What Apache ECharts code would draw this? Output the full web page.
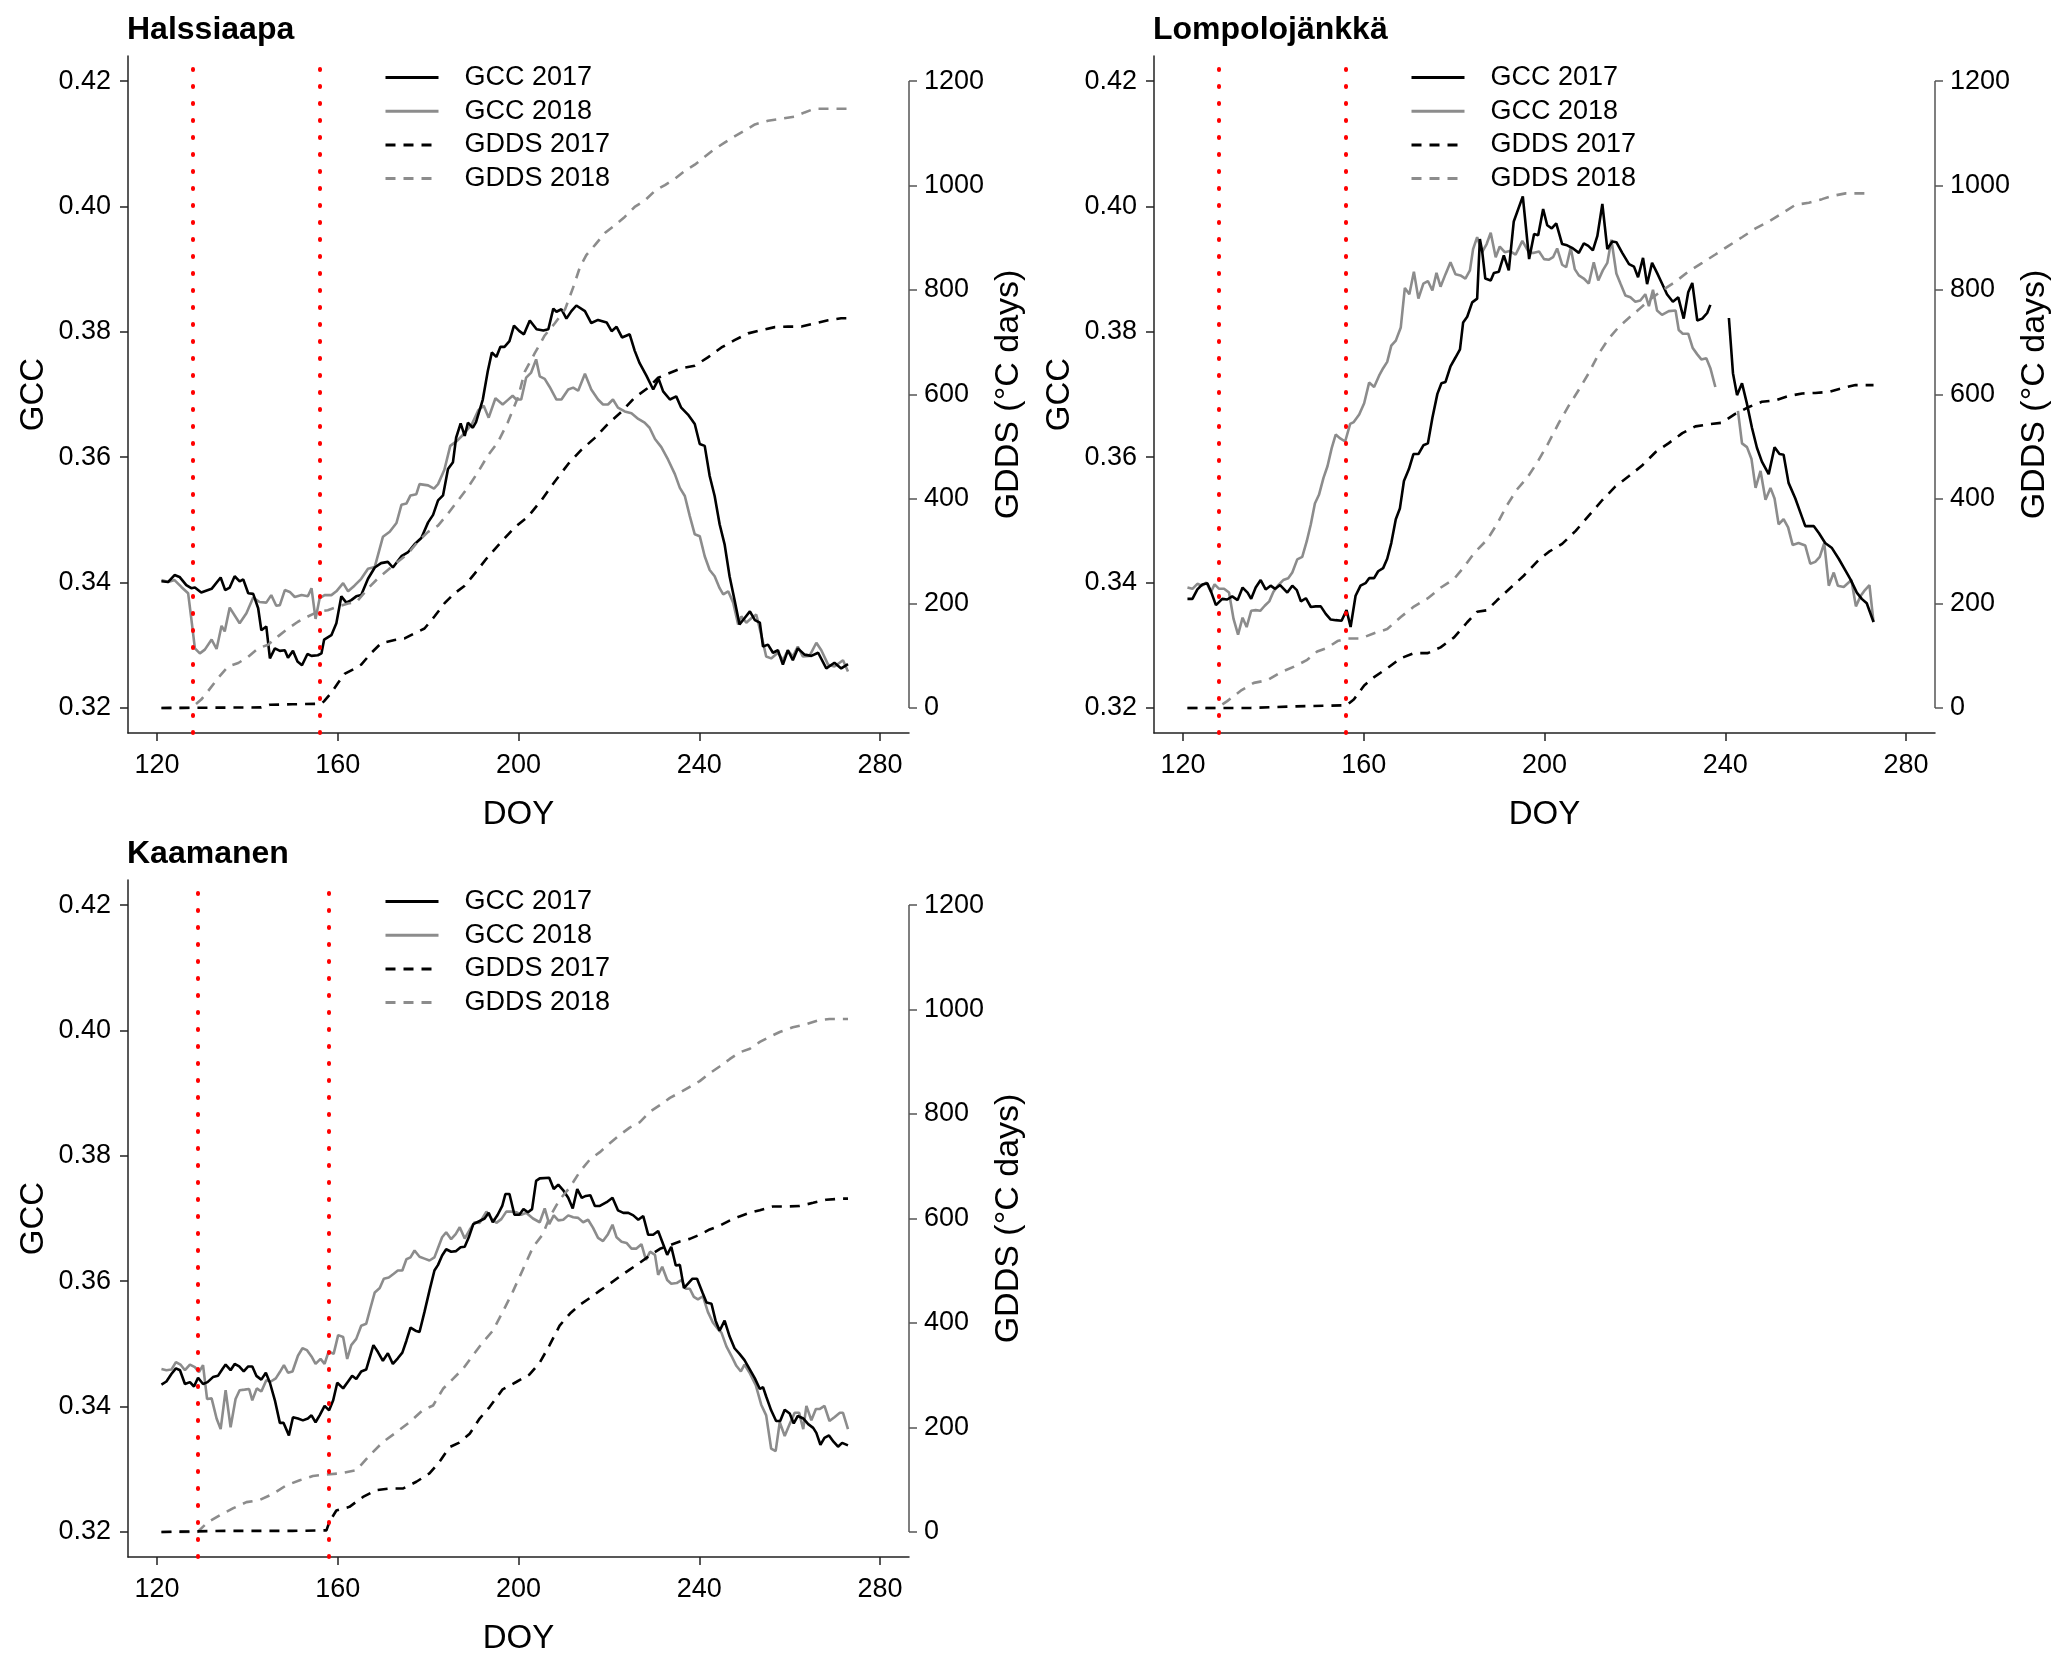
<!DOCTYPE html>
<html><head><meta charset="utf-8">
<script src="https://cdn.jsdelivr.net/npm/echarts@6/dist/echarts.min.js"></script>
<style>html,body{margin:0;padding:0;background:#fff}#c{width:2067px;height:1666px}</style>
</head><body><div id="c"></div>
<script>
// ---------- tick labels / categories ----------
const xTicks = [120, 160, 200, 240, 280];
const gccTicks = [0.32, 0.34, 0.36, 0.38, 0.40, 0.42];
const gddsTicks = [0, 200, 400, 600, 800, 1000, 1200];
const siteNames = ['Halssiaapa', 'Lompolojänkkä', 'Kaamanen'];
const legendNames = ['GCC 2017', 'GCC 2018', 'GDDS 2017', 'GDDS 2018'];

// ---------- red dotted reference lines (DOY) ----------
const halRed = [128, 156];
const lomRed = [128, 156];
const kaaRed = [129, 158];

// ---------- Halssiaapa ----------
const halGcc2017 = [[121,.3402],[122.5,.3401],[123.9,.3412],[125,.3409],[126.5,.3396],[127.6,.3391],[128.4,.3392],[129.8,.3384],[132.1,.3390],[134.1,.3408],[135.1,.3388],[136.1,.3392],[137.2,.3410],[138.3,.3402],[139.1,.3405],[140.2,.3383],[141.3,.3382],[142.4,.3359],[143.1,.3324],[144.2,.3330],[145,.3279],[146.1,.3295],[147.2,.3291],[148.3,.3292],[149,.3280],[150.1,.3291],[151.1,.3274],[152.1,.3268],[153.3,.3286],[154.2,.3283],[155.6,.3284],[156.4,.3287],[157,.3309],[158.6,.3316],[159.7,.3335],[160.8,.3378],[161.9,.3368],[163,.3372],[164.1,.3378],[165.2,.3380],[166.7,.3406],[168.2,.3424],[169.6,.3431],[171.1,.3433],[172.2,.3424],[174.1,.3442],[175.5,.3448],[177,.3461],[178.5,.3471],[180,.3496],[181.1,.3508],[182.2,.3531],[183.3,.3539],[184.4,.3581],[185.5,.3592],[186.2,.3631],[187.2,.3654],[188.1,.3634],[188.8,.3655],[189.9,.3647],[190.6,.3656],[192.1,.3692],[193.2,.3737],[194.1,.3767],[195.1,.3760],[196,.3776],[196.9,.3776],[198,.3785],[199,.3810],[200.2,.3801],[201.2,.3796],[202.5,.3818],[204,.3804],[205.5,.3802],[206.6,.3804],[207.7,.3837],[208.4,.3832],[209.5,.3836],[210.6,.3821],[211.7,.3833],[212.8,.3842],[214.7,.3833],[216.1,.3814],[217.6,.3819],[219.5,.3815],[220.6,.3801],[221.7,.3808],[222.9,.3791],[224.6,.3796],[225.7,.3770],[226.8,.3750],[228.3,.3730],[229.8,.3708],[231,.3725],[232,.3705],[233.5,.3692],[234.9,.3697],[236,.3679],[237.5,.3668],[239,.3653],[240.1,.3621],[241.2,.3618],[242.3,.3570],[243.4,.3538],[244.5,.3493],[245.6,.3461],[246.7,.3410],[247.8,.3372],[248.9,.3333],[250,.3343],[251.2,.3354],[252.3,.3340],[253.4,.3336],[254.1,.3298],[255.2,.3301],[256.3,.3288],[257.4,.3292],[258.5,.3269],[259.6,.3292],[260.7,.3276],[261.8,.3295],[263.3,.3285],[264.8,.3283],[266.3,.3288],[268.1,.3263],[269.9,.3272],[271.4,.3263],[272.9,.3270]];
const halGcc2018 = [[121,.3404],[122.5,.3401],[123.9,.3404],[125.4,.3393],[126.9,.3383],[127.6,.3343],[128.4,.3295],[129.5,.3287],[130.6,.3293],[132.1,.3309],[133.2,.3294],[134.3,.3331],[135,.3322],[136.1,.3360],[138.3,.3335],[139.8,.3351],[141.3,.3376],[142.7,.3369],[144.2,.3368],[145.3,.3380],[146.4,.3363],[147.2,.3364],[148.3,.3388],[149.4,.3385],[150.5,.3377],[152,.3380],[153.4,.3378],[154.2,.3391],[155.1,.3342],[156,.3375],[157.1,.3380],[158.6,.3380],[159.7,.3386],[161.2,.3399],[162.3,.3386],[163.7,.3395],[165.2,.3406],[166.7,.3422],[168.2,.3425],[170,.3473],[171.5,.3481],[173,.3495],[174.1,.3524],[175.2,.3526],[176.1,.3539],[177.4,.3541],[178.1,.3557],[180,.3555],[181.3,.3550],[182.2,.3557],[183.6,.3580],[184.9,.3618],[186.4,.3626],[187.9,.3637],[189.7,.3653],[191.1,.3675],[192.3,.3682],[193.4,.3663],[194.9,.3694],[196.5,.3684],[197.6,.3691],[198.7,.3698],[199.5,.3692],[200.6,.3692],[201.7,.3727],[202.8,.3735],[203.9,.3756],[204.7,.3729],[205.8,.3725],[206.9,.3712],[208.4,.3692],[209.5,.3692],[211,.3708],[212.1,.3711],[213.2,.3706],[214.7,.3733],[216.1,.3708],[217.6,.3692],[218.7,.3684],[219.8,.3684],[220.9,.3692],[222,.3679],[223.5,.3673],[225,.3670],[226.5,.3661],[227.9,.3655],[229,.3647],[230.2,.3629],[231.6,.3616],[233.1,.3596],[234.6,.3573],[235.7,.3551],[236.8,.3538],[237.9,.3506],[239,.3477],[240.1,.3474],[241.2,.3442],[242.3,.3420],[243.4,.3410],[244.5,.3391],[245.3,.3381],[246.4,.3386],[247.5,.3368],[248.6,.3333],[249.3,.3346],[250.4,.3336],[251.5,.3343],[252.6,.3349],[253.7,.3317],[254.8,.3282],[255.9,.3279],[257.4,.3288],[258.5,.3276],[259.6,.3292],[260.7,.3282],[261.8,.3298],[262.9,.3282],[264.4,.3283],[265.9,.3304],[267,.3292],[268.5,.3269],[269.9,.3266],[271.8,.3276],[272.9,.3258]];
const halGdd2017 = [[121,0],[143,1],[145,6],[150,7],[156.4,8],[157,13],[158.6,29],[160.1,48],[161.5,65],[163.7,75],[165.2,83],[167.4,105],[169.6,124],[172.6,130],[174.8,133],[177,143],[179.2,152],[181.4,175],[183.6,200],[185.8,219],[188.1,234],[190.3,257],[193.2,289],[196.2,318],[199.1,345],[202.1,366],[205.1,398],[208,433],[211,467],[213.9,494],[216.9,517],[219.8,544],[222.8,567],[225.7,594],[228.7,613],[230.9,632],[233.1,640],[236,650],[239,655],[241.9,671],[244.9,690],[247.8,704],[250.8,717],[253.7,723],[256.7,729],[259.6,730],[262.6,730],[265.5,736],[268.5,742],[271.4,746],[272.9,746]];
const halGdd2018 = [[121,0],[127.6,0],[129.8,16],[131.3,32],[133.5,57],[135.7,79],[138,86],[140.2,98],[142.4,114],[144.6,121],[146.8,137],[149,152],[151.2,165],[153.4,175],[155.6,184],[157.8,187],[160.1,194],[162.3,200],[164.1,202],[166.7,229],[168.9,248],[171.1,264],[173.3,280],[175.5,295],[177.7,318],[180,337],[182.2,349],[184.4,372],[186.6,397],[188.8,422],[191,451],[193.2,483],[195.4,508],[197.6,546],[199.9,595],[201.4,644],[203.6,679],[205.8,713],[208,736],[210.3,763],[212.1,805],[213.6,844],[215,867],[216.9,886],[219.1,909],[221.3,924],[223.5,940],[225.7,959],[227.9,971],[230.2,990],[232.4,1001],[234.6,1013],[236.8,1028],[239,1040],[241.2,1055],[243.4,1070],[245.6,1082],[247.8,1094],[250,1105],[252.3,1117],[255.2,1124],[258.2,1128],[261.1,1132],[263.3,1140],[265.5,1147],[272.9,1147]];

// ---------- Lompolojänkkä ----------
const lomGcc2017 = [[121,.3374],[122.1,.3374],[123.2,.3389],[124.3,.3397],[125.4,.3399],[126.3,.3384],[127.3,.3364],[128.7,.3374],[129.8,.3373],[130.9,.3378],[132.1,.3372],[133.2,.3392],[134.3,.3384],[135.1,.3374],[136.1,.3392],[137.2,.3404],[138.3,.3389],[139.4,.3395],[140.4,.3390],[141.5,.3396],[143.1,.3384],[144.2,.3395],[145.2,.3388],[146.1,.3370],[147.2,.3375],[148.3,.3361],[149.4,.3362],[150.5,.3362],[151.6,.3350],[152.7,.3341],[153.8,.3340],[155.1,.3339],[156.2,.3356],[157.1,.3329],[158.2,.3379],[159.3,.3395],[160.4,.3399],[161.2,.3407],[162.3,.3407],[163.2,.3418],[164.3,.3423],[165.2,.3438],[166.1,.3463],[167.1,.3501],[168,.3518],[168.9,.3562],[170,.3581],[171,.3605],[172.1,.3605],[173.2,.3619],[174.2,.3622],[175.2,.3663],[176.3,.3701],[177.2,.3718],[178.1,.3720],[179.2,.3745],[180.3,.3759],[181.3,.3772],[182,.3815],[182.9,.3824],[184,.3847],[185.1,.3853],[185.7,.3948],[186.2,.3929],[186.9,.3885],[188.1,.3882],[188.8,.3894],[189.9,.3896],[191,.3922],[192.1,.3898],[193.2,.3976],[195.2,.4016],[196.6,.3916],[197.7,.3956],[198.6,.3954],[199.7,.3996],[200.6,.3970],[201.6,.3965],[202.6,.3973],[203.9,.3940],[205,.3938],[206.1,.3934],[207.6,.3926],[208.7,.3941],[209.7,.3937],[210.7,.3930],[211.7,.3953],[212.8,.4004],[213.9,.3932],[215,.3944],[215.9,.3943],[217.2,.3926],[218.7,.3908],[219.8,.3904],[220.7,.3887],[221.8,.3918],[222.7,.3876],[223.8,.3910],[224.9,.3894],[226,.3877],[227.1,.3860],[228.4,.3848],[229.6,.3855],[230.8,.3821],[231.8,.3863],[232.7,.3878],[233.8,.3818],[234.9,.3821],[236,.3830],[236.7,.3843],[238.5,null],[240.8,.3822],[241.7,.3734],[242.6,.3699],[243.7,.3718],[244.8,.3685],[245.9,.3647],[247,.3615],[248.1,.3593],[249.6,.3573],[250.9,.3616],[252,.3605],[252.9,.3604],[254,.3559],[255.5,.3534],[256.6,.3512],[257.7,.3490],[259.6,.3490],[260.7,.3479],[262.1,.3463],[263.6,.3455],[265.1,.3438],[266.6,.3419],[267.7,.3405],[269.1,.3384],[270.2,.3374],[271.3,.3367],[272.8,.3337]];
const lomGcc2018 = [[121,.3392],[122.1,.3390],[123.2,.3398],[124.2,.3395],[125.2,.3400],[126.2,.3385],[127,.3397],[128,.3390],[129.1,.3390],[130.2,.3384],[131.2,.3342],[132.2,.3317],[133.2,.3344],[134.1,.3329],[135.1,.3355],[136.1,.3356],[137.1,.3355],[138.1,.3363],[139.1,.3370],[140,.3385],[141,.3395],[142.2,.3404],[143.3,.3407],[144.2,.3416],[145.3,.3437],[146.4,.3441],[147.4,.3466],[148.3,.3493],[149.2,.3526],[150.1,.3540],[151.1,.3567],[152,.3586],[152.9,.3614],[153.8,.3636],[154.8,.3630],[155.9,.3625],[157,.3653],[157.8,.3656],[159,.3668],[160.1,.3686],[161.2,.3719],[162.3,.3712],[163.4,.3730],[164.3,.3742],[165.2,.3752],[166.1,.3778],[167.1,.3786],[168.2,.3807],[169.1,.3870],[170.1,.3860],[171.1,.3896],[172.1,.3853],[173.2,.3877],[174.2,.3881],[175.2,.3866],[176.1,.3894],[177,.3872],[178.1,.3892],[179.2,.3911],[180.3,.3892],[181.4,.3890],[182.5,.3885],[183.5,.3898],[184.2,.3932],[185.1,.3951],[186.2,.3927],[187.2,.3940],[188.1,.3958],[189.2,.3919],[190.1,.3936],[191.2,.3927],[192.3,.3929],[193.6,.3923],[195.1,.3945],[196.6,.3926],[197.7,.3926],[198.8,.3928],[199.9,.3916],[201,.3915],[201.9,.3919],[202.8,.3933],[203.9,.3907],[204.8,.3903],[205.8,.3934],[206.7,.3900],[207.6,.3890],[208.7,.3885],[209.8,.3877],[210.9,.3911],[211.9,.3882],[212.9,.3898],[213.9,.3910],[214.8,.3947],[215.9,.3893],[216.8,.3877],[217.9,.3858],[219,.3855],[220.1,.3848],[221.2,.3850],[222.3,.3860],[223.1,.3841],[224,.3867],[224.9,.3834],[226,.3827],[227.5,.3833],[229,.3834],[229.7,.3803],[230.6,.3797],[231.8,.3797],[232.8,.3774],[233.8,.3764],[234.7,.3756],[235.8,.3758],[236.7,.3742],[237.8,.3712],[240,null],[242.8,.3674],[243.7,.3622],[244.8,.3616],[245.8,.3597],[246.7,.3551],[247.8,.3578],[248.9,.3532],[250,.3551],[250.9,.3534],[251.8,.3493],[252.9,.3501],[253.9,.3488],[254.9,.3460],[256.2,.3463],[257.7,.3459],[258.8,.3430],[259.9,.3433],[260.9,.3441],[261.9,.3463],[262.9,.3395],[264,.3416],[264.9,.3395],[266.2,.3393],[267.9,.3404],[268.9,.3362],[269.9,.3378],[270.9,.3388],[271.9,.3396],[272.8,.3337]];
const lomGdd2017 = [[121,0],[135,0],[145,3],[156.2,5],[157.8,16],[160.1,43],[162.3,59],[165.2,76],[168.2,95],[171.1,105],[174.2,105],[177,116],[180,135],[182.9,164],[185.1,184],[187.3,187],[189.5,206],[192.5,230],[195.4,253],[198.8,284],[201,299],[203.9,314],[206.9,339],[209.8,368],[212.8,398],[215.7,424],[218.7,444],[221.6,464],[224.6,490],[227.5,507],[230.5,526],[233.4,539],[236.4,543],[239.3,546],[242.2,563],[245.2,576],[248.1,586],[251.1,589],[254,597],[257,602],[259.9,603],[262.9,605],[265.8,612],[268.8,618],[272.8,618]];
const lomGdd2018 = [[121,0],[127.5,0],[129.8,13],[132.8,33],[135.7,48],[138.7,53],[141.6,68],[144.6,79],[147.5,92],[149.7,108],[151.9,115],[154.2,128],[156.4,133],[159.3,133],[162.3,143],[165.2,151],[168.2,174],[171.1,194],[174.2,210],[177,230],[180,247],[182.2,270],[184.4,296],[187.3,322],[189.5,352],[191.7,388],[193.9,418],[196.2,441],[198.4,470],[200.6,503],[203.2,546],[205.4,579],[207.6,609],[209.8,641],[212,678],[214.2,707],[216.5,730],[218.7,747],[220.9,763],[223.1,780],[226,799],[229,816],[231.9,836],[234.9,852],[237.8,868],[240.8,885],[243.7,901],[246.7,918],[249.6,931],[252.6,947],[255.5,963],[258.5,967],[261.4,974],[263.6,980],[266.6,985],[272.4,985]];

// ---------- Kaamanen ----------
const kaaGcc2017 = [[121,.3435],[122.1,.3440],[123.2,.3452],[124.2,.3461],[125.1,.3458],[126.2,.3436],[127.3,.3439],[128.2,.3432],[129.1,.3446],[130.2,.3436],[131.2,.3439],[132.4,.3447],[133.5,.3449],[134.5,.3460],[135.2,.3467],[136.3,.3458],[137.2,.3468],[138.2,.3464],[139.2,.3456],[140.2,.3464],[141.1,.3464],[142,.3449],[143.1,.3443],[144.1,.3454],[145,.3438],[146.1,.3410],[147.2,.3374],[148,.3374],[149.2,.3354],[150.1,.3383],[151.2,.3381],[152.3,.3378],[153.4,.3381],[154.2,.3386],[155.1,.3375],[156,.3386],[157.1,.3401],[158.1,.3394],[159,.3410],[159.9,.3438],[161.2,.3429],[162.3,.3440],[163.2,.3449],[164.1,.3444],[165.2,.3456],[166.3,.3459],[167.2,.3481],[167.9,.3498],[168.9,.3487],[170,.3473],[171.1,.3485],[172.2,.3468],[173.3,.3477],[174.3,.3486],[175.2,.3505],[176.1,.3526],[177.2,.3521],[178.1,.3519],[179.2,.3551],[180.3,.3585],[181.4,.3617],[182.2,.3626],[183.1,.3641],[184,.3651],[185.1,.3647],[186.2,.3648],[187.2,.3654],[188.1,.3655],[189,.3670],[190,.3691],[191.4,.3696],[192.5,.3700],[193.4,.3709],[194.3,.3694],[195.4,.3706],[196.4,.3720],[197.1,.3739],[198,.3739],[199.1,.3706],[200.2,.3706],[201.1,.3715],[202.1,.3710],[203,.3715],[203.9,.3760],[204.7,.3764],[206.8,.3765],[207.8,.3747],[208.8,.3754],[210,.3744],[211,.3733],[212,.3716],[213,.3747],[214,.3733],[214.9,.3736],[215.9,.3737],[216.9,.3720],[218,.3720],[219.5,.3726],[220.8,.3733],[222,.3713],[223.2,.3709],[224.3,.3709],[225.4,.3705],[226.5,.3698],[227.6,.3704],[228.7,.3674],[229.8,.3674],[230.9,.3680],[231.8,.3663],[232.9,.3642],[233.8,.3655],[234.8,.3625],[235.7,.3626],[236.6,.3589],[237.5,.3596],[238.5,.3604],[239.5,.3604],[240.7,.3582],[241.6,.3566],[242.7,.3564],[243.6,.3537],[244.5,.3521],[245.6,.3537],[246.7,.3512],[247.8,.3493],[248.9,.3484],[250,.3474],[251.2,.3459],[252.3,.3445],[253.4,.3428],[254.1,.3431],[254.8,.3416],[255.9,.3394],[257,.3377],[257.9,.3377],[258.9,.3395],[260,.3389],[260.9,.3373],[261.8,.3385],[263,.3381],[264.1,.3372],[265.2,.3366],[265.9,.3358],[266.8,.3339],[267.7,.3350],[268.7,.3354],[269.7,.3344],[270.7,.3336],[271.6,.3342],[272.9,.3338]];
const kaaGcc2018 = [[121,.3460],[122.1,.3458],[123.2,.3459],[124.2,.3471],[125.2,.3467],[126.2,.3458],[127.3,.3467],[128.4,.3463],[129.3,.3455],[130.2,.3466],[131.1,.3412],[132.1,.3413],[133.2,.3381],[134.1,.3364],[135.2,.3426],[136.3,.3367],[137.4,.3412],[138.3,.3426],[139.4,.3427],[140.4,.3428],[141.1,.3410],[142.1,.3429],[143.1,.3424],[144.2,.3442],[145.2,.3440],[146.3,.3445],[147.2,.3455],[148.1,.3466],[149,.3454],[150,.3456],[151.2,.3481],[152.2,.3493],[153.2,.3490],[154.2,.3480],[155.1,.3468],[156.2,.3476],[157.1,.3468],[158,.3488],[159.1,.3484],[160.1,.3514],[161.2,.3511],[162.1,.3476],[163,.3498],[164.1,.3508],[165.2,.3529],[166.3,.3532],[167.2,.3556],[168.2,.3582],[169.3,.3589],[170.2,.3604],[171.3,.3606],[172.4,.3612],[173.3,.3617],[174.3,.3617],[175.2,.3635],[176.1,.3638],[177,.3649],[178.1,.3639],[179.2,.3636],[180.3,.3633],[181.4,.3638],[182.4,.3657],[183.1,.3670],[184,.3678],[185.1,.3667],[186.1,.3675],[187,.3686],[188.1,.3668],[189.2,.3682],[190.3,.3694],[191.4,.3693],[192.9,.3711],[194,.3700],[195.1,.3693],[196.2,.3699],[197.3,.3711],[198.4,.3711],[199.5,.3710],[200.6,.3706],[201.7,.3709],[203.2,.3700],[204.7,.3694],[205.8,.3716],[206.8,.3691],[207.8,.3705],[208.8,.3697],[209.9,.3698],[211,.3705],[212.1,.3702],[213.2,.3701],[214.3,.3694],[215.4,.3698],[216.5,.3685],[217.6,.3669],[218.7,.3664],[219.8,.3675],[220.8,.3690],[221.7,.3670],[222.8,.3663],[223.9,.3661],[225,.3652],[226.1,.3652],[227.2,.3659],[228.2,.3634],[229.1,.3647],[230.2,.3642],[230.9,.3610],[231.8,.3623],[232.9,.3602],[233.8,.3596],[235,.3597],[236.1,.3602],[237,.3588],[237.9,.3588],[238.8,.3575],[239.7,.3571],[240.8,.3576],[241.9,.3551],[243,.3534],[244.2,.3523],[244.9,.3518],[246,.3496],[247.1,.3481],[248.2,.3465],[249.2,.3456],[250,.3467],[251.2,.3453],[252.5,.3434],[253.7,.3403],[254.8,.3386],[255.9,.3333],[256.9,.3329],[257.8,.3375],[258.9,.3353],[260,.3372],[261.1,.3390],[262.1,.3390],[263,.3364],[263.7,.3401],[264.8,.3378],[265.8,.3396],[266.6,.3396],[267.7,.3401],[268.8,.3377],[269.9,.3383],[271.1,.3390],[271.8,.3390],[272.9,.3364]];
const kaaGdd2017 = [[121,0],[135,2],[150,2],[157.5,3],[158.2,20],[159.7,41],[162.6,48],[165.6,67],[168.5,80],[171.5,83],[174.4,83],[177.4,96],[180.3,112],[182.5,134],[184.7,162],[186.9,171],[189.2,188],[191.4,217],[193.6,239],[196.5,273],[199.5,287],[202.4,301],[204.7,324],[206.9,358],[209.1,395],[211.4,418],[213.6,435],[215.8,448],[218,462],[220.2,475],[222.4,489],[224.6,502],[226.8,515],[229,529],[231.3,542],[233.5,549],[235.7,556],[237.9,561],[240.1,569],[242.3,579],[244.5,586],[246.7,596],[248.9,604],[251.2,611],[253.4,616],[256.3,623],[259.3,623],[262.2,624],[265.2,630],[268.1,636],[271.4,638],[272.9,638]];
const kaaGdd2018 = [[121,0],[129,0],[131.3,19],[133.9,32],[136.8,45],[139.8,57],[142.7,61],[145.7,73],[148.6,89],[151.6,99],[154.5,107],[157.5,110],[160.4,112],[164.1,118],[167.1,147],[170,172],[173,191],[175.9,210],[178.8,233],[181.1,242],[183.3,274],[185.5,293],[187.7,312],[189.9,338],[192.1,363],[194.3,385],[196.5,421],[198.7,459],[201,503],[203.2,545],[205.4,570],[206.9,603],[209.1,636],[211.4,660],[213.6,690],[215.8,713],[218,727],[220.2,744],[222.4,760],[224.6,774],[226.8,784],[229,804],[231.3,817],[233.5,831],[235.7,841],[237.9,852],[240.1,863],[242.3,878],[244.5,891],[246.7,905],[248.9,918],[251.2,925],[253.4,938],[255.6,948],[257.8,957],[260.7,966],[263.7,972],[266.6,980],[268.8,982],[272.9,982]];

// ---------- layout ----------
const FONT = '"Liberation Sans", Arial, Helvetica, sans-serif';
const X_MIN = 113.6, X_MAX = 286.4;
const GCC_MIN = 0.316, GCC_MAX = 0.424;
const GDD_MIN = -48, GDD_MAX = 1248;
const PW = 781, PH = 677;
const panels = [
  { title: siteNames[0], left: 128, top: 56, gcc17: halGcc2017, gcc18: halGcc2018, gdd17: halGdd2017, gdd18: halGdd2018, red: halRed },
  { title: siteNames[1], left: 1154, top: 56, gcc17: lomGcc2017, gcc18: lomGcc2018, gdd17: lomGdd2017, gdd18: lomGdd2018, red: lomRed },
  { title: siteNames[2], left: 128, top: 880, gcc17: kaaGcc2017, gcc18: kaaGcc2018, gdd17: kaaGdd2017, gdd18: kaaGdd2018, red: kaaRed }
];

const BLACK = '#000000', GRAY = '#8c8c8c', AXIS = '#222222';
const option = {
  animation: false,
  backgroundColor: '#ffffff',
  textStyle: { fontFamily: FONT },
  title: [], legend: [], grid: [], xAxis: [], yAxis: [], series: []
};

function mkLine(name, data, xi, yi, color, dashed) {
  return {
    name, type: 'line', data, xAxisIndex: xi, yAxisIndex: yi,
    symbol: 'none', showSymbol: false, connectNulls: false, silent: true,
    lineStyle: { color, width: 2.6, type: dashed ? [10, 8] : 'solid' },
    itemStyle: { color }
  };
}

panels.forEach((p, i) => {
  option.grid.push({ left: p.left, top: p.top, width: PW, height: PH });
  option.title.push({
    text: p.title, left: p.left - 1, top: p.top - 42, padding: 0,
    textStyle: { fontFamily: FONT, fontSize: 32, fontWeight: 'bold', color: '#000' }
  });
  option.legend.push({
    data: legendNames, orient: 'vertical', left: p.left + 256, top: p.top + 8,
    itemWidth: 53, itemHeight: 20, itemGap: 6.7, padding: 0,
    selectedMode: false,
    itemStyle: { opacity: 0 },
    lineStyle: { width: 3 },
    textStyle: { fontFamily: FONT, fontSize: 27, color: '#000', padding: [0, 0, 0, 21] }
  });
  option.xAxis.push({
    gridIndex: i, type: 'value', min: X_MIN, max: X_MAX,
    name: 'DOY', nameLocation: 'middle', nameGap: 65,
    nameTextStyle: { fontFamily: FONT, fontSize: 33, color: '#000' },
    axisLine: { show: true, onZero: false, lineStyle: { color: AXIS, width: 1.5 } },
    axisTick: { show: true, length: 8, customValues: xTicks, lineStyle: { color: AXIS, width: 1.5 } },
    axisLabel: { customValues: xTicks, fontFamily: FONT, fontSize: 27, color: '#000', margin: 19 },
    splitLine: { show: false }
  });
  option.yAxis.push({
    gridIndex: i, type: 'value', position: 'left', min: GCC_MIN, max: GCC_MAX,
    name: 'GCC', nameLocation: 'middle', nameGap: 78, nameRotate: 90,
    nameTextStyle: { fontFamily: FONT, fontSize: 33, color: '#000' },
    axisLine: { show: true, onZero: false, lineStyle: { color: AXIS, width: 1.5 } },
    axisTick: { show: true, length: 8, customValues: gccTicks, lineStyle: { color: AXIS, width: 1.5 } },
    axisLabel: { customValues: gccTicks, formatter: v => v.toFixed(2), fontFamily: FONT, fontSize: 27, color: '#000', margin: 17 },
    splitLine: { show: false }
  });
  option.yAxis.push({
    gridIndex: i, type: 'value', position: 'right', min: GDD_MIN, max: GDD_MAX,
    name: 'GDDS (°C days)', nameLocation: 'middle', nameGap: 83, nameRotate: 90,
    nameTextStyle: { fontFamily: FONT, fontSize: 34, color: '#000' },
    axisLine: { show: false, onZero: false },
    axisTick: { show: true, length: 8, customValues: gddsTicks, lineStyle: { color: '#555', width: 1.5 } },
    axisLabel: { customValues: gddsTicks, formatter: v => String(Math.round(v)), fontFamily: FONT, fontSize: 27, color: '#000', margin: 15 },
    splitLine: { show: false }
  });
  const yl = 2 * i, yr = 2 * i + 1;
  const s17 = mkLine(legendNames[0], p.gcc17, i, yl, BLACK, false);
  s17.markLine = {
    silent: true, symbol: 'none', label: { show: false },
    lineStyle: { color: '#ff0000', width: 4, type: [1, 16], cap: 'round' },
    data: p.red.map(v => ({ xAxis: v }))
  };
  option.series.push(mkLine(legendNames[1], p.gcc18, i, yl, GRAY, false));
  option.series.push(s17);
  option.series.push(mkLine(legendNames[3], p.gdd18, i, yr, GRAY, true));
  option.series.push(mkLine(legendNames[2], p.gdd17, i, yr, BLACK, true));
  // right axis line, spanning only the tick range like the original
  option.series.push({
    type: 'line', xAxisIndex: i, yAxisIndex: yr, silent: true, clip: false,
    symbol: 'none', legendHoverLink: false,
    data: [[X_MAX, gddsTicks[0]], [X_MAX, gddsTicks[gddsTicks.length - 1]]],
    lineStyle: { color: '#555', width: 1.5 }
  });
});

const chart = echarts.init(document.getElementById('c'), null, { renderer: 'canvas' });
chart.setOption(option);
</script></body></html>
